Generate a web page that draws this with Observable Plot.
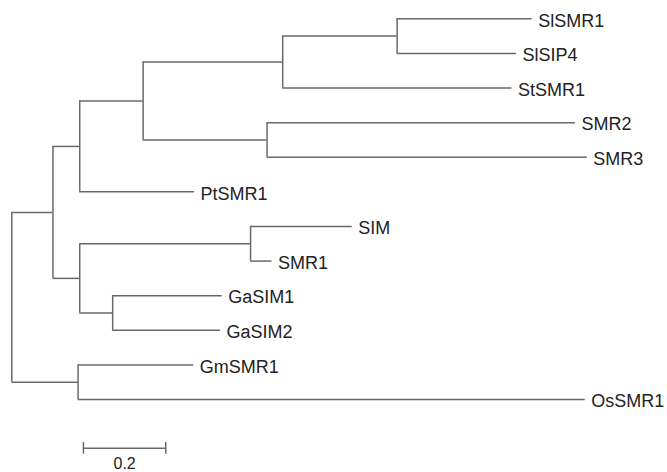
<!DOCTYPE html>
<html>
<head>
<meta charset="utf-8">
<script src="https://cdn.jsdelivr.net/npm/d3@7"></script>
<script src="https://cdn.jsdelivr.net/npm/@observablehq/plot@0.6"></script>
<style>
  html, body { margin: 0; padding: 0; background: #fff; }
  #chart svg { display: block; }
</style>
</head>
<body>
<div id="chart"></div>
<script>
// Tree topology: node names, parent of each node, branch length (substitutions/site)
const nodeNames   = ["root","A","B","C","D","F","SlSMR1","SlSIP4","StSMR1","E","SMR2","SMR3","PtSMR1","H","G","SIM","SMR1","I","GaSIM1","GaSIM2","J","GmSMR1","OsSMR1"];
const nodeParents = [null,"root","A","B","C","D","F","F","D","C","E","E","B","A","H","G","G","H","I","I","root","J","J"];
const branchLens  = [0,0.100,0.065,0.154,0.339,0.278,0.328,0.290,0.557,0.301,0.749,0.778,0.279,0.065,0.415,0.247,0.052,0.080,0.266,0.262,0.161,0.281,1.232];
// Leaf order top to bottom
const leafOrder = ["SlSMR1","SlSIP4","StSMR1","SMR2","SMR3","PtSMR1","SIM","SMR1","GaSIM1","GaSIM2","GmSMR1","OsSMR1"];
// Scale bar
const scaleBarStart = 0.174;
const scaleBarLength = 0.2;
const scaleBarLabel = "0.2";

// Build tree
const nodes = new Map();
nodeNames.forEach((n, i) => nodes.set(n, {name: n, parent: nodeParents[i], len: branchLens[i], children: []}));
for (const nd of nodes.values()) if (nd.parent) nodes.get(nd.parent).children.push(nd);
function setX(nd, px) { nd.x = px + nd.len; nd.children.forEach(c => setX(c, nd.x)); }
setX(nodes.get("root"), 0);
function setY(nd) {
  if (nd.children.length === 0) { nd.y = leafOrder.indexOf(nd.name); return nd.y; }
  const ys = nd.children.map(setY);
  nd.y = (d3.min(ys) + d3.max(ys)) / 2;
  return nd.y;
}
setY(nodes.get("root"));

const all = [...nodes.values()];
const horiz = all.filter(d => d.parent).map(d => ({x1: nodes.get(d.parent).x, x2: d.x, y: d.y}));
const vert = all.filter(d => d.children.length).map(d => ({x: d.x, y1: d3.min(d.children, c => c.y), y2: d3.max(d.children, c => c.y)}));
const leaves = all.filter(d => d.children.length === 0);

const sbY = 12.41;
const scaleBar = [{x1: scaleBarStart, x2: scaleBarStart + scaleBarLength, y: sbY}];
const scaleTicks = [{x: scaleBarStart}, {x: scaleBarStart + scaleBarLength}];

const stroke = "#6a6a6a";
const chart = Plot.plot({
  width: 667,
  height: 472,
  margin: 0,
  x: {domain: [-0.02745, 1.5927], axis: null},
  y: {domain: [-0.529, 13.109], reverse: true, axis: null},
  style: {fontFamily: "'Liberation Sans', Arial, sans-serif", background: "#fff"},
  marks: [
    Plot.ruleY(horiz, {x1: "x1", x2: "x2", y: "y", stroke, strokeWidth: 1.5}),
    Plot.ruleX(vert, {x: "x", y1: "y1", y2: "y2", stroke, strokeWidth: 1.5}),
    Plot.text(leaves, {x: "x", y: "y", text: "name", textAnchor: "start", dx: 6, dy: 2, fontSize: 18, fill: "#222"}),
    Plot.ruleY(scaleBar, {x1: "x1", x2: "x2", y: "y", stroke, strokeWidth: 1.5}),
    Plot.ruleX(scaleTicks, {x: "x", y1: sbY - 0.17, y2: sbY + 0.17, stroke, strokeWidth: 1.5}),
    Plot.text([scaleBarLabel], {x: scaleBarStart + scaleBarLength / 2, y: sbY, text: d => d, dy: 16, fontSize: 16, fill: "#222"})
  ]
});
document.getElementById("chart").appendChild(chart);
</script>
</body>
</html>
